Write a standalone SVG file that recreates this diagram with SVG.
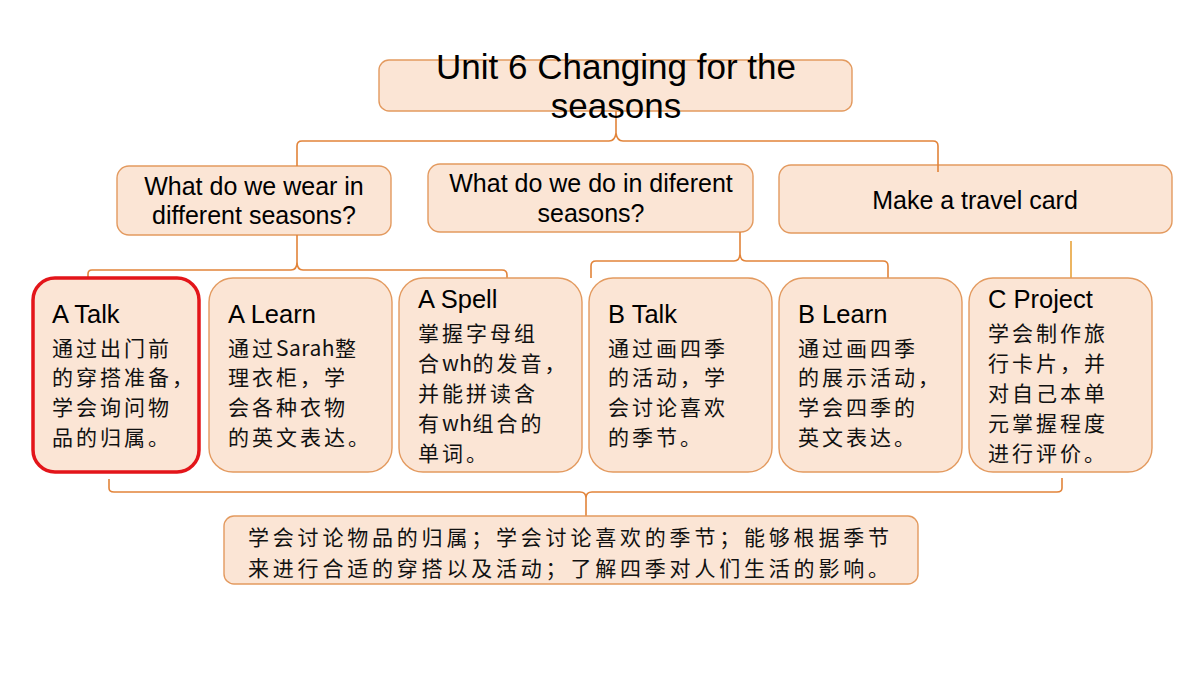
<svg xmlns="http://www.w3.org/2000/svg" width="1200" height="675" viewBox="0 0 1200 675">
<style>
.box{fill:#fbe5d5;stroke:#e39a5f;stroke-width:1.4}
.red{fill:#fbe5d5;stroke:#e3151a;stroke-width:3.5}
.con{fill:none;stroke:#e2843a;stroke-width:1.6}
.en{font-family:"Liberation Sans",Arial,sans-serif;fill:#000}
.t1{font-size:35px;text-anchor:middle}
.t2{font-size:25px;text-anchor:middle}
.t3{font-size:25.5px}
.zh{font-family:"Noto Sans CJK SC","Noto Sans CJK JP",sans-serif;font-size:21px;letter-spacing:3px;fill:#111}
.lat{letter-spacing:0.5px}
</style>
<rect width="1200" height="675" fill="#fff"/>

<g id="top">
<rect class="box" x="379" y="60" width="473" height="51" rx="10"/>
</g>
<g id="q1"><rect class="box" x="117" y="166" width="274" height="69" rx="12"/>
<text class="en t2" x="254" y="195">What do we wear in</text>
<text class="en t2" x="254" y="224">different seasons?</text></g>
<g id="q2"><rect class="box" x="428" y="164" width="325" height="68" rx="12"/>
<text class="en t2" x="591" y="192">What do we do in diferent</text>
<text class="en t2" x="591" y="222">seasons?</text></g>
<g id="q3"><rect class="box" x="779" y="165" width="393" height="68" rx="12"/>
<text class="en t2" x="975" y="209">Make a travel card</text></g>

<g id="connectors">
<path class="con" d="M616,111 V133 M297,166 V146 Q297,141 302,141 H609 Q615,141 616,133 Q617,141 623,141 H933 Q938,141 938,146 V172"/>
<path class="con" d="M88,279 V274 Q88,270 92,270 H291 Q297,270 297,262 V235 M297,262 Q297,270 303,270 H502 Q507,270 507,275 V279"/>
<path class="con" d="M740,232 V253 Q740,261 734,261 H596 Q591,261 591,266 V278 M740,253 Q740,261 746,261 H883 Q888,261 888,266 V278"/>
<path class="con" d="M1071,241 V280" style="stroke:#e8a33a"/>
<path class="con" d="M109,479 V488 Q109,492 114,492 H580 Q586,492 586,498 V516 M586,498 Q586,492 592,492 H1057 Q1062,492 1062,488 V478"/>
</g>

<g id="title"><text class="en t1" x="616" y="79">Unit 6 Changing for the</text>
<text class="en t1" x="616" y="118">seasons</text></g>

<g id="atalk"><rect class="red" x="33" y="278" width="166" height="194" rx="22"/>
<text class="en t3" x="52" y="323">A Talk</text>
<text class="zh" x="52" y="356">通过出门前</text>
<text class="zh" x="52" y="385">的穿搭准备，</text>
<text class="zh" x="52" y="415">学会询问物</text>
<text class="zh" x="52" y="445">品的归属。</text></g>

<g id="alearn"><rect class="box" x="209" y="278" width="183" height="194" rx="24"/>
<text class="en t3" x="228" y="323">A Learn</text>
<text class="zh" x="228" y="356">通过<tspan class="lat">Sarah</tspan>整</text>
<text class="zh" x="228" y="385">理衣柜，学</text>
<text class="zh" x="228" y="415">会各种衣物</text>
<text class="zh" x="228" y="445">的英文表达。</text></g>

<g id="aspell"><rect class="box" x="399" y="278" width="183" height="194" rx="24"/>
<text class="en t3" x="418" y="308">A Spell</text>
<text class="zh" x="418" y="341">掌握字母组</text>
<text class="zh" x="418" y="371">合<tspan class="lat">wh</tspan>的发音，</text>
<text class="zh" x="418" y="401">并能拼读含</text>
<text class="zh" x="418" y="431">有<tspan class="lat">wh</tspan>组合的</text>
<text class="zh" x="418" y="461">单词。</text></g>

<g id="btalk"><rect class="box" x="589" y="278" width="183" height="194" rx="24"/>
<text class="en t3" x="608" y="323">B Talk</text>
<text class="zh" x="608" y="356">通过画四季</text>
<text class="zh" x="608" y="385">的活动，学</text>
<text class="zh" x="608" y="415">会讨论喜欢</text>
<text class="zh" x="608" y="445">的季节。</text></g>

<g id="blearn"><rect class="box" x="779" y="278" width="183" height="194" rx="24"/>
<text class="en t3" x="798" y="323">B Learn</text>
<text class="zh" x="798" y="356">通过画四季</text>
<text class="zh" x="798" y="385">的展示活动，</text>
<text class="zh" x="798" y="415">学会四季的</text>
<text class="zh" x="798" y="445">英文表达。</text></g>

<g id="cproject"><rect class="box" x="969" y="278" width="183" height="194" rx="24"/>
<text class="en t3" x="988" y="308">C Project</text>
<text class="zh" x="988" y="341">学会制作旅</text>
<text class="zh" x="988" y="371">行卡片，并</text>
<text class="zh" x="988" y="401">对自己本单</text>
<text class="zh" x="988" y="431">元掌握程度</text>
<text class="zh" x="988" y="461">进行评价。</text></g>

<g id="summary"><rect class="box" x="224" y="516" width="694" height="68" rx="10"/>
<text class="zh" x="248" y="545" style="letter-spacing:3.8px">学会讨论物品的归属；学会讨论喜欢的季节；能够根据季节</text>
<text class="zh" x="248" y="576" style="letter-spacing:3.8px">来进行合适的穿搭以及活动；了解四季对人们生活的影响。</text></g>
</svg>
